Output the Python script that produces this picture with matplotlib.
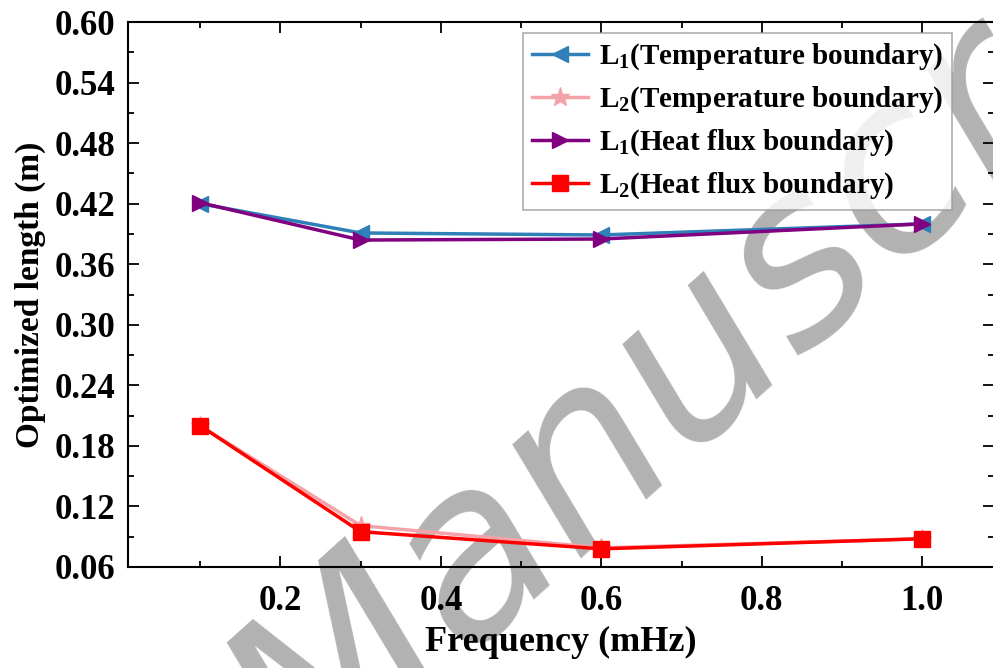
import matplotlib
matplotlib.use("Agg")
import matplotlib.pyplot as plt
from matplotlib.ticker import MultipleLocator, FormatStrFormatter

# data
freq = [0.1, 0.3, 0.6, 1.0]
L1_temp = [0.420, 0.391, 0.389, 0.400]
L2_temp = [0.200, 0.101, 0.079, 0.088]
L1_flux = [0.421, 0.384, 0.385, 0.400]
L2_flux = [0.200, 0.095, 0.078, 0.088]

labels = [r"L$_1$(Temperature boundary)",
          r"L$_2$(Temperature boundary)",
          r"L$_1$(Heat flux boundary)",
          r"L$_2$(Heat flux boundary)"]

plt.rcParams["font.family"] = "Liberation Serif"
plt.rcParams["font.weight"] = "bold"
plt.rcParams["mathtext.fontset"] = "custom"
plt.rcParams["mathtext.rm"] = "Liberation Serif:bold"
plt.rcParams["mathtext.it"] = "Liberation Serif:bold"
plt.rcParams["mathtext.bf"] = "Liberation Serif:bold"

fig = plt.figure(figsize=(9.93, 6.68), dpi=100)
ax = fig.add_axes([0.1289, 0.1512, 0.8725, 0.8158])
ax.set_facecolor("none")

# watermark behind the plot
fig.text(758 / 993, 1 - 303 / 668, "Manuscript", fontsize=172, style="italic",
         weight="normal", family="DejaVu Sans", color="#b2b2b2", rotation=42,
         ha="center", va="center", rotation_mode="anchor", zorder=-5)

ax.plot(freq, L1_temp, "-", marker="<", color="#2f7fb8", lw=2.5, ms=12, label=labels[0])
ax.plot(freq, L2_temp, "-", marker="*", color="#f4a4a8", lw=2.5, ms=14, label=labels[1])
ax.plot(freq, L1_flux, "-", marker=">", color="#800080", lw=2.5, ms=12, label=labels[2])
ax.plot(freq, L2_flux, "-", marker="s", color="#ff0000", lw=2.5, ms=11, label=labels[3])

ax.set_xlim(0.01, 1.09)
ax.set_ylim(0.06, 0.60)
ax.xaxis.set_major_locator(MultipleLocator(0.2))
ax.xaxis.set_minor_locator(MultipleLocator(0.1))
ax.yaxis.set_major_locator(MultipleLocator(0.06))
ax.yaxis.set_minor_locator(MultipleLocator(0.03))
ax.xaxis.set_major_formatter(FormatStrFormatter("%.1f"))
ax.yaxis.set_major_formatter(FormatStrFormatter("%.2f"))

ax.tick_params(which="both", direction="in", top=True, right=True, width=1.3)
ax.tick_params(which="major", length=8, labelsize=25, pad=9)
ax.tick_params(axis="x", which="major", pad=13)
ax.tick_params(which="minor", length=4)
for s in ax.spines.values():
    s.set_linewidth(1.5)

ax.set_xlabel("Frequency (mHz)", fontsize=26, fontweight="bold", labelpad=6)
ax.set_ylabel("Optimized length (m)", fontsize=24, fontweight="bold", labelpad=6)

leg = ax.legend(loc="upper right", bbox_to_anchor=(0.9515, 0.98), fontsize=21,
                frameon=True, fancybox=False, edgecolor="#999999",
                handlelength=1.9, handletextpad=0.4, labelspacing=0.42,
                borderpad=0.3, borderaxespad=0)
leg.get_frame().set_linewidth(1.2)

fig.savefig("out.png", dpi=100)
